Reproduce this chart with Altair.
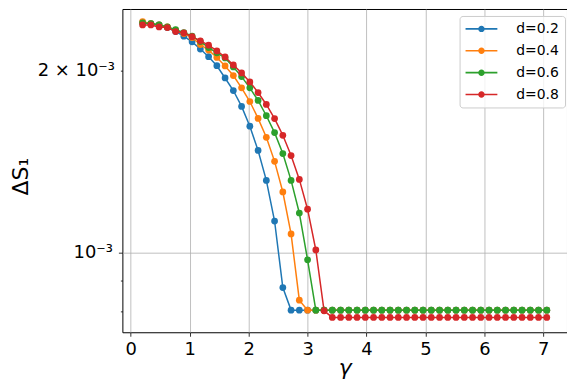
import altair as alt
import pandas as pd

# gamma grid (x values)
gamma = [0.2, 0.34, 0.48, 0.62, 0.76, 0.9, 1.04, 1.18, 1.32, 1.46,
         1.6, 1.74, 1.88, 2.02, 2.16, 2.3, 2.44, 2.58, 2.72, 2.86,
         3.0, 3.14, 3.28, 3.42, 3.56, 3.7, 3.84, 3.98, 4.12, 4.26,
         4.4, 4.54, 4.68, 4.82, 4.96, 5.1, 5.24, 5.38, 5.52, 5.66,
         5.8, 5.94, 6.08, 6.22, 6.36, 6.5, 6.64, 6.78, 6.92, 7.06]

d_labels = ["d=0.2", "d=0.4", "d=0.6", "d=0.8"]
colors = ["#1f77b4", "#ff7f0e", "#2ca02c", "#d62728"]

# Delta S_1 values, in units of 1e-3
s_d02 = [2.404, 2.395, 2.383, 2.359, 2.323, 2.283, 2.234, 2.174, 2.111, 2.040,
         1.947, 1.856, 1.747, 1.620, 1.477, 1.318, 1.129, 0.876, 0.804, 0.804,
         0.804, 0.804, 0.804, 0.804, 0.804, 0.804, 0.804, 0.804, 0.804, 0.804,
         0.804, 0.804, 0.804, 0.804, 0.804, 0.804, 0.804, 0.804, 0.804, 0.804,
         0.804, 0.804, 0.804, 0.804, 0.804, 0.804, 0.804, 0.804, 0.804, 0.804]
s_d04 = [2.413, 2.395, 2.383, 2.365, 2.336, 2.306, 2.271, 2.211, 2.165, 2.105,
         2.038, 1.965, 1.875, 1.780, 1.669, 1.553, 1.417, 1.261, 1.075, 0.835,
         0.804, 0.804, 0.804, 0.804, 0.804, 0.804, 0.804, 0.804, 0.804, 0.804,
         0.804, 0.804, 0.804, 0.804, 0.804, 0.804, 0.804, 0.804, 0.804, 0.804,
         0.804, 0.804, 0.804, 0.804, 0.804, 0.804, 0.804, 0.804, 0.804, 0.804]
s_d06 = [2.401, 2.395, 2.383, 2.365, 2.341, 2.315, 2.283, 2.237, 2.186, 2.143,
         2.101, 2.030, 1.957, 1.875, 1.787, 1.686, 1.581, 1.460, 1.318, 1.164,
         0.974, 0.804, 0.804, 0.804, 0.804, 0.804, 0.804, 0.804, 0.804, 0.804,
         0.804, 0.804, 0.804, 0.804, 0.804, 0.804, 0.804, 0.804, 0.804, 0.804,
         0.804, 0.804, 0.804, 0.804, 0.804, 0.804, 0.804, 0.804, 0.804, 0.804]
s_d08 = [2.383, 2.383, 2.365, 2.359, 2.323, 2.312, 2.279, 2.243, 2.206, 2.158,
         2.109, 2.046, 1.985, 1.918, 1.842, 1.760, 1.668, 1.565, 1.449, 1.323,
         1.181, 1.011, 0.802, 0.782, 0.782, 0.782, 0.782, 0.782, 0.782, 0.782,
         0.782, 0.782, 0.782, 0.782, 0.782, 0.782, 0.782, 0.782, 0.782, 0.782,
         0.782, 0.782, 0.782, 0.782, 0.782, 0.782, 0.782, 0.782, 0.782, 0.782]

y_ticks = [0.0008, 0.0009, 0.001, 0.002]
x_ticks = [0, 1, 2, 3, 4, 5, 6, 7]

series = [s_d02, s_d04, s_d06, s_d08]
rows = []
for lab, ser in zip(d_labels, series):
    for g, v in zip(gamma, ser):
        rows.append({"gamma": g, "dS": v * 1e-3, "d": lab})
df = pd.DataFrame(rows)

FONT = "DejaVu Sans"
color_scale = alt.Scale(domain=d_labels, range=colors)

x_enc = alt.X(
    "gamma:Q",
    scale=alt.Scale(domain=[-0.143, 7.403], nice=False, zero=False),
    axis=alt.Axis(
        values=x_ticks, title="γ", grid=True, gridColor="#b0b0b0", gridWidth=0.8,
        domain=False, tickSize=4, tickColor="black", tickWidth=0.8,
        labelFontSize=18, labelFont=FONT, labelColor="black", labelPadding=4,
        labelFlush=False, labelOverlap=False, format="d",
        titleFont=FONT, titleFontSize=22, titleFontStyle="italic",
        titleFontWeight="normal", titleColor="black",
        titleY=42, titleBaseline="alphabetic",
    ),
)

y_enc = alt.Y(
    "dS:Q",
    scale=alt.Scale(type="log", domain=[7.39e-4, 2.532e-3], nice=False),
    axis=alt.Axis(
        values=y_ticks, title="ΔS₁",
        grid=True, gridColor="#b0b0b0", gridWidth=0.8,
        gridOpacity={"condition": {"test": "abs(datum.value - 0.001) < 1e-7", "value": 1}, "value": 0},
        tickSize={"condition": {"test": "abs(datum.value - 0.001) < 1e-7", "value": 4}, "value": 2},
        domain=False, tickColor="black", tickWidth=0.8,
        labelExpr="datum.value > 0.0015 ? '2 × 10⁻³' : (datum.value > 0.00095 ? '10⁻³' : '')",
        labelFontSize=18, labelFont=FONT, labelColor="black", labelPadding=6,
        labelFlush=False, labelOverlap=False,
        titleFont=FONT, titleFontSize=22, titleFontWeight="normal", titleColor="black",
        titleAngle=270, titleX=-102, titleY=168, titleAlign="center", titleBaseline="middle",
    ),
)

legend_symbol = "M-1.4,-0.16L5,-0.16L5,0.16L-1.4,0.16Z M2.45,0A0.65,0.65,0,1,1,1.15,0A0.65,0.65,0,1,1,2.45,0Z"
legend = alt.Legend(
    title=None, orient="none", legendX=339, legendY=7,
    labelFont=FONT, labelFontSize=14, labelColor="black",
    symbolType=legend_symbol, symbolSize=100, symbolStrokeWidth=0,
    symbolOpacity=1, labelOffset=37, rowPadding=8, padding=6,
    strokeColor="#cccccc", fillColor="rgba(255,255,255,0.8)", cornerRadius=3,
)

layers = []
for lab in d_labels:
    base = alt.Chart(df).transform_filter(alt.datum.d == lab)
    line = base.mark_line(strokeWidth=1.5, opacity=1).encode(
        x=x_enc, y=y_enc,
        color=alt.Color("d:N", scale=color_scale, legend=legend),
    )
    pts = base.mark_circle(size=46, opacity=1).encode(
        x=x_enc, y=y_enc,
        color=alt.Color("d:N", scale=color_scale, legend=legend),
    )
    layers += [line, pts]

chart = alt.layer(*layers).properties(
    width=447, height=325,
    autosize=alt.AutoSizeParams(type="none"),
    padding={"left": 115, "top": 0, "right": 0, "bottom": 48},
    background="white",
).configure_view(stroke="black", strokeWidth=1)

chart.save("out.html", embed_options={"renderer": "svg", "actions": False})
